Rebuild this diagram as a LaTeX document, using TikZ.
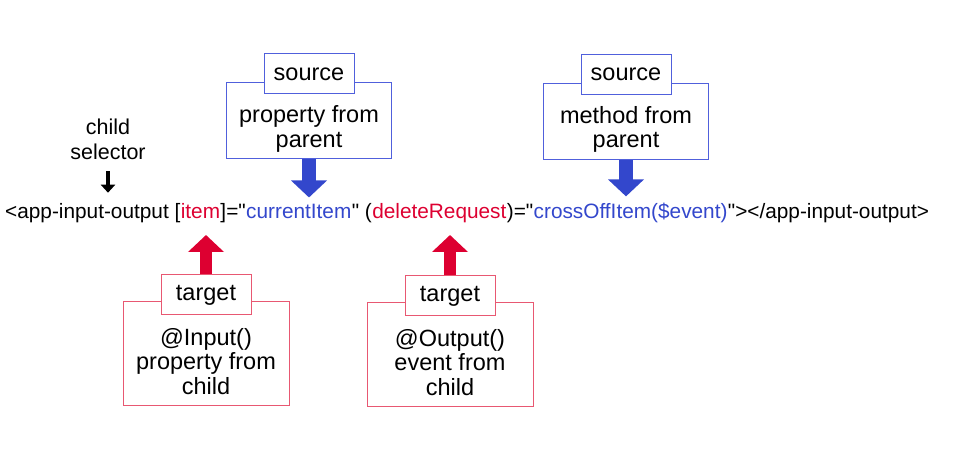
\documentclass[tikz,border=0pt]{standalone}
\usepackage{fontspec}
\setmainfont{Liberation Sans}[Ligatures=TeXOff]
\usetikzlibrary{positioning,arrows.meta}
\definecolor{ngred}{RGB}{221,0,49}
\definecolor{ngblue}{RGB}{51,71,204}
\definecolor{redline}{RGB}{232,88,114}
\definecolor{blueline}{RGB}{80,96,220}

\begin{document}
\begin{tikzpicture}[x=1pt,y=-1pt]
\tikzstyle{every node}+=[font=\fontsize{23.5}{24.5}\selectfont]
\tikzstyle{code}=[inner sep=0pt,anchor=base west,font=\fontsize{20.8}{24}\selectfont]
\tikzstyle{srcbox}=[draw=blueline,line width=1pt,align=center,minimum width=165pt,minimum height=76pt,inner sep=0pt]
\tikzstyle{tgtbox}=[draw=redline,line width=1pt,align=center,minimum width=166pt,minimum height=104pt,inner sep=0pt]
\tikzstyle{tag}=[fill=white,line width=1pt,minimum width=90pt,minimum height=40pt,inner sep=0pt,anchor=south]
\tikzstyle{fat}=[-{Triangle[width=35pt,length=17pt]}]
\useasboundingbox (0,0) rectangle (970,462);

% the element
\node[code] (open) at (5,219) {<app-input-output [};
\node[code,text=ngred] (item) at (open.base east) {item};
\node[code] (eqa) at (item.base east) {]="};
\node[code,text=ngblue] (cur) at (eqa.base east) {currentItem};
\node[code] (mid) at (cur.base east) {" (};
\node[code,text=ngred] (del) at (mid.base east) {deleteRequest};
\node[code] (eqb) at (del.base east) {)="};
\node[code,text=ngblue] (cross) at (eqb.base east) {crossOffItem(\$event)};
\node[code] (close) at (cross.base east) {"></app-input-output>};

\node[align=center,font=\fontsize{21.5}{25}\selectfont] (sel) at (108,139.5) {child\\selector};

% sources
\node[srcbox] (prop) at (309,121) {\rule{0pt}{33pt}property from\\parent};
\node[tag,draw=blueline] (srcA) at ([yshift=-12pt]prop.north) {source};
\node[srcbox] (meth) at (626,121.5) {\rule{0pt}{33pt}method from\\parent};
\node[tag,draw=blueline] (srcB) at ([yshift=-12pt]meth.north) {source};

% targets
\node[tgtbox] (inp) at (206,354) {\rule{0pt}{32pt}@Input()\\property from\\child};
\node[tag,draw=redline] (tgtA) at ([yshift=-14pt]inp.north) {target};
\node[tgtbox] (outp) at (450,355) {\rule{0pt}{32pt}@Output()\\event from\\child};
\node[tag,draw=redline] (tgtB) at ([yshift=-14pt]outp.north) {target};

\draw[line width=3.5pt,-{Triangle[width=14pt,length=8pt]},shorten <=8pt,shorten >=11pt]
  (sel) -- (sel |- open.north);
\path[fat,ngblue,line width=14pt,shorten >=7pt]
  (prop) edge (prop |- cur.north)
  (meth) edge (meth |- cross.north);
\path[fat,ngred,line width=12pt,shorten >=16pt]
  (tgtA) edge (tgtA |- item.base)
  (tgtB) edge (tgtB |- del.base);
\end{tikzpicture}
\end{document}
